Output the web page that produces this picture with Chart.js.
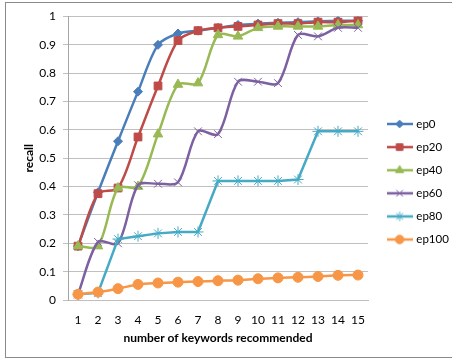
<!DOCTYPE html>
<html>
<head>
<meta charset="utf-8">
<script src="https://cdn.jsdelivr.net/npm/chart.js@4/dist/chart.umd.min.js"></script>
<style>
  html, body { margin: 0; padding: 0; background: #fff; }
  #wrap { position: relative; width: 452px; height: 361px; overflow: hidden; }
  #frame { position: absolute; left: 5px; top: 2px; width: 460px; height: 356px;
           border: 1px solid #8a8a8a; box-sizing: border-box; }
  #c { position: absolute; left: 0; top: 0; }
</style>
</head>
<body>
<div id="wrap">
  <div id="frame"></div>
  <canvas id="c" width="452" height="361"></canvas>
</div>
<script>
// number of keywords recommended (x categories)
const categories = ['1','2','3','4','5','6','7','8','9','10','11','12','13','14','15'];

// recall per series
const ep0   = [0.19, 0.38, 0.56, 0.735, 0.90, 0.94, 0.95, 0.96, 0.97, 0.975, 0.978, 0.98, 0.983, 0.985, 0.985];
const ep20  = [0.19, 0.375, 0.395, 0.575, 0.755, 0.915, 0.95, 0.96, 0.965, 0.97, 0.975, 0.975, 0.98, 0.98, 0.985];
const ep40  = [0.19, 0.19, 0.395, 0.40, 0.585, 0.76, 0.765, 0.935, 0.93, 0.96, 0.965, 0.965, 0.965, 0.97, 0.97];
const ep60  = [0.02, 0.205, 0.20, 0.405, 0.41, 0.415, 0.595, 0.585, 0.77, 0.77, 0.765, 0.935, 0.93, 0.96, 0.96];
const ep80  = [0.02, 0.025, 0.215, 0.225, 0.235, 0.24, 0.24, 0.42, 0.42, 0.42, 0.42, 0.425, 0.595, 0.595, 0.595];
const ep100 = [0.02, 0.028, 0.04, 0.055, 0.06, 0.063, 0.065, 0.068, 0.07, 0.075, 0.078, 0.08, 0.083, 0.087, 0.088];

const seriesNames = ['ep0', 'ep20', 'ep40', 'ep60', 'ep80', 'ep100'];
const seriesData = [ep0, ep20, ep40, ep60, ep80, ep100];

const FONT = 'Lato, "Open Sans", sans-serif';

const styles = [
  { color: '#4a7ebb', point: 'rectRot',  radius: 4.5, tension: 0.3 },
  { color: '#be4b48', point: 'rect',     radius: 5.5, tension: 0.3 },
  { color: '#98b954', point: 'triangle', radius: 5.5, tension: 0.3 },
  { color: '#7d60a0', point: 'crossRot', radius: 5.5, tension: 0.3 },
  { color: '#46aac5', point: 'star',     radius: 5.5, tension: 0 },
  { color: '#f79646', point: 'circle',   radius: 5,   tension: 0.3 }
];

// small line-plus-marker swatch for the legend
function swatch(st) {
  const cv = document.createElement('canvas');
  cv.width = 26; cv.height = 14;
  const g = cv.getContext('2d');
  g.strokeStyle = st.color;
  g.lineWidth = 2.5;
  g.beginPath(); g.moveTo(0, 7); g.lineTo(26, 7); g.stroke();
  g.fillStyle = st.color;
  g.lineWidth = 1;
  Chart.helpers.drawPoint(g, { pointStyle: st.point, radius: st.radius * 0.85, rotation: 0, borderWidth: 1 }, 13, 7);
  return cv;
}

const datasets = seriesData.map((d, i) => {
  const st = styles[i];
  return {
    label: seriesNames[i],
    data: d,
    borderColor: st.color,
    backgroundColor: st.color,
    borderWidth: 2.5,
    pointStyle: st.point,
    pointRadius: st.radius,
    pointBorderWidth: 1,
    pointBorderColor: st.color,
    pointBackgroundColor: st.color,
    tension: st.tension,
    order: seriesNames.length - i
  };
});

// legend column: fixed width, items nudged right/up inside it
const legendPlacement = {
  id: 'legendPlacement',
  beforeLayout(chart) {
    const lg = chart.legend;
    if (lg && !lg._fixedFit) {
      const fit0 = lg.fit;
      lg.fit = function () { fit0.call(this); this.width = 84; };
      lg._fixedFit = true;
    }
  },
  afterLayout(chart) {
    const lg = chart.legend;
    if (!lg) return;
    lg.left += 9; lg.right += 9;
    lg.top -= 7; lg.bottom -= 7;
  }
};

new Chart(document.getElementById('c'), {
  type: 'line',
  data: { labels: categories, datasets },
  plugins: [legendPlacement],
  options: {
    responsive: false,
    animation: false,
    events: [],
    layout: { padding: { left: 0, right: 0, top: 16.5, bottom: 0 } },
    plugins: {
      tooltip: { enabled: false },
      legend: {
        position: 'right',
        labels: {
          usePointStyle: true,
          pointStyleWidth: 22,
          padding: 11.6,
          color: '#000',
          font: { family: FONT, size: 11.5 },
          generateLabels(chart) {
            return chart.data.datasets.map((ds, i) => ({
              text: ds.label,
              pointStyle: swatch(styles[i]),
              fillStyle: ds.borderColor,
              strokeStyle: ds.borderColor,
              lineWidth: 0,
              hidden: false,
              datasetIndex: i,
              fontColor: '#000'
            }));
          }
        }
      }
    },
    scales: {
      x: {
        offset: true,
        afterFit(scale) { scale.height = 61; },
        grid: { display: false, drawTicks: false },
        border: { display: true, color: '#bfbfbf', width: 1 },
        ticks: { color: '#000', font: { family: FONT, size: 12 }, padding: 13, maxRotation: 0, autoSkip: false },
        title: { display: true, text: 'number of keywords recommended', color: '#000',
                 font: { family: FONT, size: 12, weight: 'bold' }, padding: { top: 0, bottom: 16 } }
      },
      y: {
        min: 0, max: 1,
        afterFit(scale) { scale.width = 68; },
        ticks: { stepSize: 0.1, color: '#000', font: { family: FONT, size: 12 }, padding: 7,
                 callback: (v) => String(Math.round(v * 10) / 10) },
        grid: { color: '#c0c0c0', lineWidth: 1, tickLength: 5, drawTicks: true },
        border: { display: true, color: '#a6a6a6', width: 1 },
        title: { display: true, text: 'recall', color: '#000',
                 font: { family: FONT, size: 12, weight: 'bold' }, padding: { top: 22, bottom: 0 } }
      }
    }
  }
});
</script>
</body>
</html>
